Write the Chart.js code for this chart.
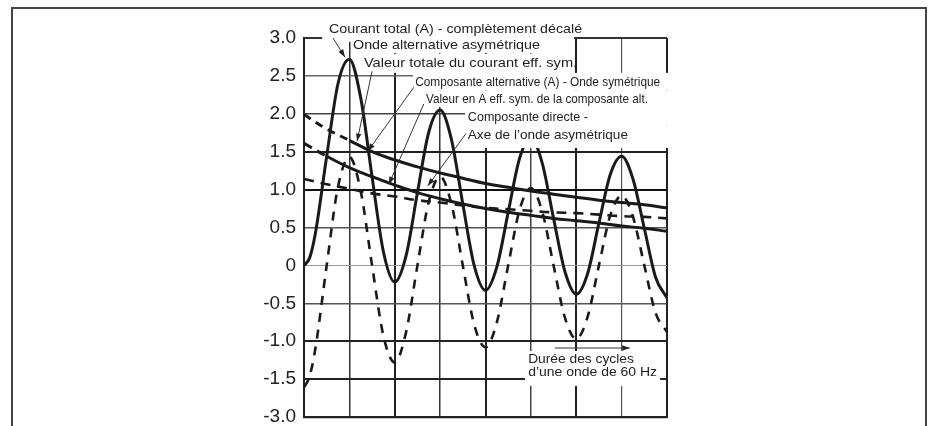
<!DOCTYPE html>
<html>
<head>
<meta charset="utf-8">
<script src="https://cdn.jsdelivr.net/npm/chart.js@4.4.0/dist/chart.umd.min.js"></script>
<style>
html,body{margin:0;padding:0;background:#fff;}
#wrap{position:relative;width:932px;height:426px;}
</style>
</head>
<body>
<div id="wrap"><canvas id="c" width="932" height="426"></canvas></div>
<script>
/* ===============================
   DONNEES
================================= */
// temps en demi-cycles (une case = 1/2 cycle de 60 Hz)
const cycles = [0,0.125,0.25,0.5,0.75,1,1.25,1.5,1.75,2,2.25,2.5,2.75,3,3.25,3.5,3.75,4,4.25,4.5,4.75,5,5.25,5.5,5.75,6,6.25,6.5,6.75,7,7.25,7.5,7.75,8];
// courant total - onde alternative asymetrique
const totalWave = [0,0.10,0.42,1.44,2.40,2.72,2.21,1.17,0.18,-0.22,0.13,0.96,1.76,2.05,1.66,0.81,0,-0.33,-0.02,0.70,1.41,1.68,1.35,0.62,-0.08,-0.38,-0.11,0.56,1.20,1.44,1.14,0.49,-0.16,-0.43];
// composante alternative - onde symetrique
const acWave = [-1.61,-1.46,-1.10,0,1.04,1.43,0.98,0,-0.93,-1.28,-0.88,0,0.84,1.17,0.81,0,-0.78,-1.08,-0.75,0,0.73,1.02,0.71,0,-0.69,-0.97,-0.68,0,0.66,0.92,0.64,0,-0.63,-0.88];

const rmsCycles = [0,0.5,1,1.5,2,2.5,3,3.5,4,4.5,5,5.5,6,6.5,7,7.5,8];
// valeur totale du courant eff. sym.
const totalRms = [1.99,1.80,1.65,1.50,1.39,1.30,1.22,1.15,1.08,1.03,0.98,0.94,0.90,0.86,0.83,0.80,0.76];
// composante directe - axe de l'onde asymetrique
const dcComponent = [1.61,1.44,1.29,1.17,1.06,0.96,0.88,0.81,0.75,0.70,0.66,0.62,0.59,0.56,0.52,0.49,0.45];
// valeur en A eff. sym. de la composante alt.
const acRms = [1.14,1.07,1.01,0.95,0.91,0.86,0.83,0.79,0.76,0.74,0.72,0.70,0.69,0.67,0.65,0.64,0.62];

// graduations de l'axe (echelle interrompue en bas)
const yTickLabels = ['-3.0','-1.5','-1.0','-0.5','0','0.5','1.0','1.5','2.0','2.5','3.0'];

/* ===============================
   ANNOTATIONS
================================= */
const FONT = '"Liberation Sans", Arial, sans-serif';
// texte (debut x, fin x, y) + cache blanc, en coordonnees des axes
const notes = [
    {text:'Courant total (A) - complètement décalé', x:0.55, end:6.13, y:3.12, box:[0.40,5.95,3.26,2.95]},
    {text:'Onde alternative asymétrique', x:1.08, end:5.20, y:2.91, box:[1.04,5.95,3.02,2.80]},
    {text:'Valeur totale du courant eff. sym.', x:1.32, end:6.02, y:2.66, box:[1.28,5.95,2.79,2.54]},
    {text:'Composante alternative (A) - Onde symétrique', x:2.45, end:7.85, y:2.42, box:[2.40,8.4,2.54,2.31]},
    {text:'Valeur en A eff. sym. de la composante alt.', x:2.69, end:7.58, y:2.19, box:[2.64,8.4,2.31,2.09]},
    {text:'Composante directe -', x:3.61, end:6.26, y:1.96, box:[3.55,8.4,2.09,1.85]},
    {text:'Axe de l\u2019onde asymétrique', x:3.61, end:7.14, y:1.72, box:[3.55,8.4,1.85,1.55]},
    {text:'Durée des cycles', x:4.94, end:7.27, y:-1.24, box:[4.87,7.85,-1.13,-1.59]},
    {text:'d\u2019une onde de 60 Hz', x:4.94, end:7.78, y:-1.41, box:null}
];
// fleches de rappel [x0,y0,x1,y1]
const leaders = [
    [0.64,3.00,0.90,2.75],
    [1.50,2.56,1.17,1.64],
    [2.42,2.35,1.41,1.51],
    [2.64,2.13,1.87,1.07],
    [3.57,1.74,2.73,1.05],
    [5.53,-1.09,7.18,-1.09]
];

const notesPlugin = {
    id:'notes',
    beforeDraw(chart){
        const c = chart.ctx;
        c.save();
        c.strokeStyle = '#444';
        c.lineWidth = 2;
        c.beginPath();
        c.moveTo(12,426); c.lineTo(12,8); c.lineTo(926,8); c.lineTo(926,426);
        c.stroke();
        c.restore();
    },
    afterDatasetsDraw(chart){
        const c = chart.ctx, xs = chart.scales.x, ys = chart.scales.y;
        c.save();
        c.fillStyle = '#fff';
        notes.forEach(n=>{
            if(!n.box) return;
            const x0 = xs.getPixelForValue(n.box[0]), x1 = xs.getPixelForValue(n.box[1]);
            const y0 = ys.getPixelForValue(n.box[2]), y1 = ys.getPixelForValue(n.box[3]);
            c.fillRect(x0, y0, x1-x0, y1-y0);
        });
        c.fillStyle = '#222';
        c.textBaseline = 'middle';
        c.font = '13.5px ' + FONT;
        notes.forEach(n=>{
            // la police du scan est plus ou moins etroite selon la ligne
            const x0 = xs.getPixelForValue(n.x), x1 = xs.getPixelForValue(n.end);
            const sx = (x1 - x0) / c.measureText(n.text).width;
            c.save();
            c.translate(x0, ys.getPixelForValue(n.y));
            c.scale(sx, 1);
            c.fillText(n.text, 0, 0);
            c.restore();
        });
        c.strokeStyle = '#333';
        c.lineWidth = 1;
        leaders.forEach(l=>{
            const ax = xs.getPixelForValue(l[0]), ay = ys.getPixelForValue(l[1]);
            const bx = xs.getPixelForValue(l[2]), by = ys.getPixelForValue(l[3]);
            c.beginPath(); c.moveTo(ax,ay); c.lineTo(bx,by); c.stroke();
            const a = Math.atan2(by-ay, bx-ax);
            c.beginPath();
            c.moveTo(bx,by);
            c.lineTo(bx-8*Math.cos(a-0.35), by-8*Math.sin(a-0.35));
            c.lineTo(bx-8*Math.cos(a+0.35), by-8*Math.sin(a+0.35));
            c.closePath();
            c.fill();
        });
        c.restore();
    }
};

/* ===============================
   GRILLE
================================= */
const yGrid = {'-2':['#222',2.2],'-1.5':['#222',2],'-1':['#222',2],'-0.5':['#555',1.5],'0':['#999',1],
    '0.5':['#555',1.5],'1':['#111',2],'1.5':['#222',2],'2':['#444',1.5],'2.5':['#666',1.5],'3':['#333',2]};
const xGrid = {'0':['#222',2],'1':['#333',1.5],'2':['#222',2],'3':['#333',1.5],'4':['#222',2],
    '5':['#444',1.5],'6':['#222',2],'7':['#555',1.2],'8':['#222',2]};

const pts = (xsArr, ysArr) => xsArr.map((x,i)=>({x, y:ysArr[i]}));
const INK = '#1a1a1a';

new Chart(document.getElementById('c'),{
    type:'line',
    data:{
        datasets:[
            {label:'Courant total (A)', data:pts(cycles,totalWave), borderColor:INK, borderWidth:3, cubicInterpolationMode:'monotone'},
            {label:'Composante alternative (A)', data:pts(cycles,acWave), borderColor:INK, borderWidth:2.6, borderDash:[9,8], cubicInterpolationMode:'monotone'},
            {label:'Valeur totale eff.', data:pts(rmsCycles,totalRms), borderColor:INK, borderWidth:3, tension:0.4,
                segment:{borderDash:ctx=>ctx.p1DataIndex<=2?[8,6]:undefined}},
            {label:'Composante directe', data:pts(rmsCycles,dcComponent), borderColor:INK, borderWidth:3, tension:0.4,
                segment:{borderDash:ctx=>ctx.p1DataIndex<=1?[9,6]:undefined}},
            {label:'Valeur eff. comp. alt.', data:pts(rmsCycles,acRms), borderColor:INK, borderWidth:2.6, borderDash:[10,7], tension:0.4}
        ]
    },
    options:{
        responsive:false,
        animation:false,
        devicePixelRatio:1,
        layout:{padding:{top:38,right:265,bottom:9,left:0}},
        elements:{point:{radius:0}},
        plugins:{legend:{display:false}, tooltip:{enabled:false}},
        scales:{
            x:{
                type:'linear', min:0, max:8,
                ticks:{display:false, stepSize:1},
                grid:{drawTicks:false, color:c=>(xGrid[c.tick.value]||['#333'])[0], lineWidth:c=>(xGrid[c.tick.value]||[0,1])[1]},
                border:{display:true, color:'#222', width:2},
                afterFit:s=>{s.height=0;}
            },
            y:{
                min:-2, max:3,
                ticks:{stepSize:0.5, padding:8, color:'#222', font:{family:FONT, size:19},
                    callback:(v,i)=>yTickLabels[i]},
                grid:{drawTicks:false, color:c=>(yGrid[c.tick.value]||['#333'])[0], lineWidth:c=>(yGrid[c.tick.value]||[0,1])[1]},
                border:{display:true, color:'#222', width:2},
                afterFit:s=>{s.width=304; s.paddingTop=0; s.paddingBottom=0;}
            }
        }
    },
    plugins:[notesPlugin]
});
</script>
</body>
</html>
